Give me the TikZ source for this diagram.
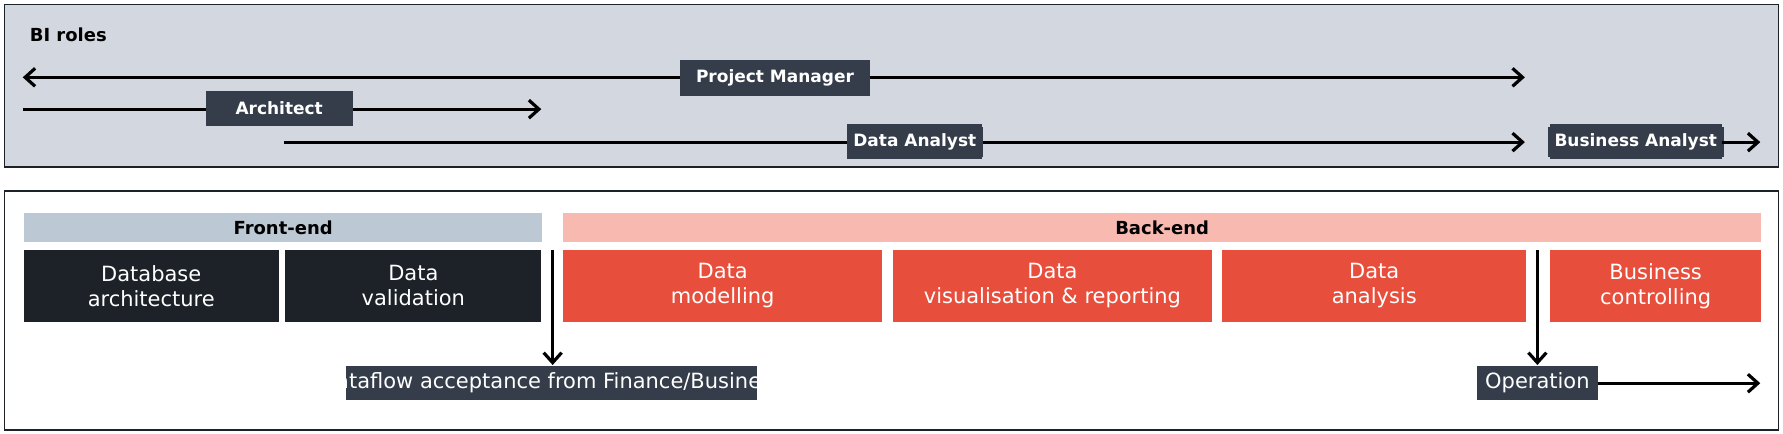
\documentclass[tikz,border=0pt]{standalone}
\usepackage{fontspec}
\setmainfont{DejaVu Sans}
\usetikzlibrary{arrows.meta}
\definecolor{panel}{HTML}{D3D8E0}
\definecolor{role}{HTML}{343D49}
\definecolor{front}{HTML}{BCC8D3}
\definecolor{back}{HTML}{F7B9B0}
\definecolor{dark}{HTML}{1D2229}
\definecolor{redb}{HTML}{E84E3C}
\begin{document}
\begin{tikzpicture}[x=0.02cm,y=-0.02cm,
  ar/.style={line width=1.6pt,-{Straight Barb[length=5pt,width=9pt]}},
  rolebox/.style={fill=role,text=white,font=\fontsize{8.5}{10}\selectfont\bfseries},
  hdr/.style={font=\fontsize{9}{11}\selectfont\bfseries},
  tb/.style={text=white,font=\fontsize{10.5}{12.5}\selectfont,align=center}]
\useasboundingbox (0,0) rectangle (1568,381);
% top panel
\draw[fill=panel,draw=dark,line width=0.8pt] (4,4) rectangle (1564,147);
\node[anchor=west,hdr] (bi) at (20,31) {BI roles};
\coordinate (pmL) at (20,68); \coordinate (pmR) at (1341,68);
\draw[ar,{Straight Barb[length=5pt,width=9pt]}-{Straight Barb[length=5pt,width=9pt]}] (pmL) -- (pmR);
\fill[role] (598,53) rectangle (765,84); \node[rolebox] (pm) at (681.5,68.5) {Project Manager};
\coordinate (arL) at (20,96); \coordinate (arR) at (476,96);
\draw[ar] (arL) -- (arR);
\fill[role] (181,80) rectangle (310,111); \node[rolebox] (arch) at (245.5,95.5) {Architect};
\coordinate (daL) at (250,125); \coordinate (daR) at (1341,125);
\draw[ar] (daL) -- (daR);
\fill[role] (745,109) rectangle (864,140); \node[rolebox] (da) at (804.5,124.5) {Data Analyst};
\fill[role] (1363,109) rectangle (1514,140); \node[rolebox] (ba) at (1438.5,124.5) {Business Analyst};
\coordinate (baR) at (1548,125);
\draw[ar] (1514,125) -- (baR);
% bottom panel
\draw[fill=white,draw=dark,line width=0.8pt] (4,168) rectangle (1564,378);
\fill[front] (21,187) rectangle (477,213); \node[hdr] (fe) at (249,200) {Front-end};
\fill[back] (495,187) rectangle (1549,213); \node[hdr] (be) at (1022,200) {Back-end};
\fill[dark] (21,220) rectangle (245,283); \node[tb] (b1) at (133,251.5) {Database\\architecture};
\fill[dark] (251,220) rectangle (476,283); \node[tb] (b2) at (363.5,251.5) {Data\\validation};
\fill[redb] (495,220) rectangle (776,283); \node[tb] (b3) at (635.5,251.5) {Data\\modelling};
\fill[redb] (785,220) rectangle (1066,283); \node[tb] (b4) at (925.5,251.5) {Data\\visualisation \& reporting};
\fill[redb] (1075,220) rectangle (1342,283); \node[tb] (b5) at (1208.5,251.5) {Data\\analysis};
\fill[redb] (1363,220) rectangle (1549,283); \node[tb] (b6) at (1456,251.5) {Business\\controlling};
\fill[role] (304,322) rectangle (666,352); \node[tb] (df) at (485,337) {Dataflow acceptance from Finance/Business};
\fill[role] (1299,322) rectangle (1405,352); \node[tb] (op) at (1352,337) {Operation};
\coordinate (a1) at (486,220); \coordinate (a2) at (486,321);
\draw[ar] (a1) -- (a2);
\coordinate (c1) at (1352,220); \coordinate (c2) at (1352,321);
\draw[ar] (c1) -- (c2);
\coordinate (opR) at (1548,337);
\draw[ar] (1405,337) -- (opR);
\end{tikzpicture}
\end{document}
